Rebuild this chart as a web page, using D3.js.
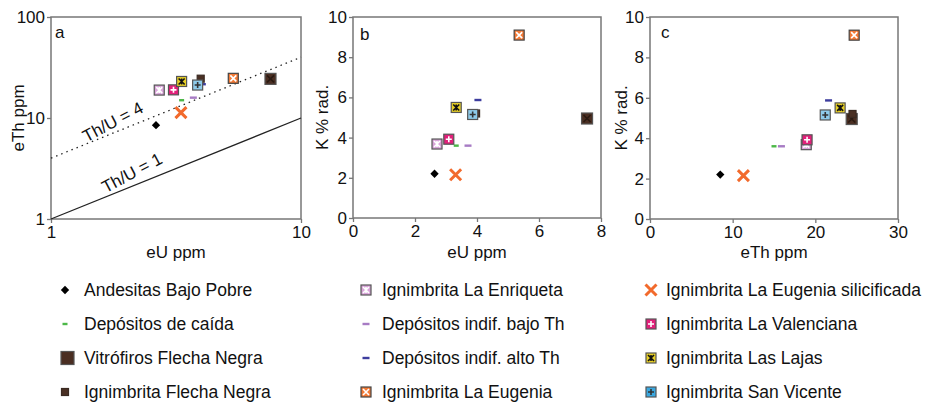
<!DOCTYPE html>
<html>
<head>
<meta charset="utf-8">
<script src="https://cdn.jsdelivr.net/npm/d3@7"></script>
<style>
  body { margin: 0; background: #fff; }
  svg { font-family: "Liberation Sans", Arial, sans-serif; }
</style>
</head>
<body>
<div id="chart"></div>
<script>
// data
var groups = ["Andesitas Bajo Pobre", "Depósitos de caída", "Vitrófiros Flecha Negra", "Ignimbrita Flecha Negra",
    "Ignimbrita La Enriqueta", "Depósitos indif. bajo Th", "Depósitos indif. alto Th", "Ignimbrita La Eugenia",
    "Ignimbrita La Eugenia silicificada", "Ignimbrita La Valenciana", "Ignimbrita Las Lajas", "Ignimbrita San Vicente"];
var eU  = [2.63, 3.33, 7.55, 3.97, 2.71, 3.71, 4.03, 5.36, 3.31, 3.09, 3.33, 3.86];
var eTh = [8.5, 15.0, 24.4, 24.5, 18.9, 15.9, 21.6, 24.7, 11.3, 19.0, 23.0, 21.2];
var K   = [2.2, 3.6, 4.95, 5.2, 3.68, 3.6, 5.87, 9.1, 2.15, 3.92, 5.5, 5.15];
var thuRatios = [4, 1];
var thuLabels = ["Th/U = 4", "Th/U = 1"];
var logTicksU = [1, 10];
var logTicksTh = [1, 10, 100];
var ticksU = [0, 2, 4, 6, 8];
var ticksTh = [0, 10, 20, 30];
var ticksK = [0, 2, 4, 6, 8, 10];

// marker look for every group (same order as groups)
var styles = [
    {shape: "diamond", fill: "#000", size: 7},
    {shape: "dash", fill: "#4cb848", w: 5},
    {shape: "square", fill: "#4a2e22", size: 11, glyph: "x", glyphColor: "#2a1a12", legendSize: 13, legendGlyph: false},
    {shape: "square", fill: "#4a3024", size: 7, stroke: "#3a2a22"},
    {shape: "square", fill: "#d8a4d8", size: 10, glyph: "star", glyphColor: "#fff"},
    {shape: "dash", fill: "#a77bc4", w: 7},
    {shape: "dash", fill: "#3d3d9e", w: 7},
    {shape: "square", fill: "#f37a36", size: 10, glyph: "x", glyphColor: "#fff", stroke: "#444"},
    {shape: "cross", fill: "#f26a2c", size: 11},
    {shape: "square", fill: "#e2207a", size: 10, glyph: "plus", glyphColor: "#fff"},
    {shape: "square", fill: "#e8d026", size: 10, glyph: "star", glyphColor: "#111"},
    {shape: "square", fill: "#8ecbea", size: 10, glyph: "plus", glyphColor: "#333", legendFill: "#3aa8e0"}
];

var width = 935, height = 407;
var svg = d3.select("#chart").append("svg")
    .attr("width", width)
    .attr("height", height);

function drawMarker(g, st, legend) {
    var s = (legend && st.legendSize) ? st.legendSize : st.size;
    if (st.shape == "diamond") {
        g.append("path").attr("d", d3.symbol().type(d3.symbolDiamond2).size(s * s * 0.9)()).attr("fill", st.fill);
    } else if (st.shape == "dash") {
        g.append("rect").attr("x", -st.w / 2).attr("y", -1.2).attr("width", st.w).attr("height", 2.4).attr("fill", st.fill);
    } else if (st.shape == "cross") {
        var h = s / 2;
        g.append("path").attr("d", "M" + (-h) + "," + (-h) + "L" + h + "," + h + "M" + (-h) + "," + h + "L" + h + "," + (-h))
            .attr("stroke", st.fill).attr("stroke-width", 3).attr("fill", "none");
    } else {
        var h2 = s / 2;
        g.append("rect").attr("x", -h2).attr("y", -h2).attr("width", s).attr("height", s)
            .attr("fill", (legend && st.legendFill) ? st.legendFill : st.fill)
            .attr("stroke", st.stroke || "#555").attr("stroke-width", 1.2);
        if (legend && st.legendGlyph === false) return;
        var q = h2 - 2, d = "";
        if (st.glyph == "x" || st.glyph == "star") d += "M" + (-q) + "," + (-q) + "L" + q + "," + q + "M" + (-q) + "," + q + "L" + q + "," + (-q);
        if (st.glyph == "plus") d += "M" + (-q) + ",0L" + q + ",0M0," + (-q) + "L0," + q;
        if (st.glyph == "star") d += "M0," + (-q) + "L0," + q;
        if (d) g.append("path").attr("d", d).attr("stroke", st.glyphColor).attr("stroke-width", 1.6).attr("fill", "none");
    }
}

function drawPanel(opt) {
    var p = svg.append("g");
    var x = opt.x, y = opt.y;

    var xAxis = d3.axisBottom(x).tickValues(opt.xTicks).tickSize(4).tickSizeOuter(0).tickPadding(3)
        .tickFormat(d3.format("d"));
    var yAxis = d3.axisLeft(y).tickValues(opt.yTicks).tickSize(4).tickSizeOuter(0).tickPadding(2)
        .tickFormat(d3.format("d"));

    p.append("g").attr("transform", "translate(0," + y.range()[0] + ")").call(xAxis);
    p.append("g").attr("transform", "translate(" + x.range()[0] + ",0)").call(yAxis);
    p.selectAll(".tick text").attr("font-size", 17).attr("fill", "#111").attr("font-family", "Liberation Sans, Arial, sans-serif");
    p.selectAll(".tick line").attr("stroke", "#777").attr("stroke-width", 1.3);
    p.selectAll(".domain").remove();

    // frame around the plot area
    p.append("rect")
        .attr("x", x.range()[0]).attr("y", y.range()[1])
        .attr("width", x.range()[1] - x.range()[0]).attr("height", y.range()[0] - y.range()[1])
        .attr("fill", "none").attr("stroke", "#777").attr("stroke-width", 1.5);

    if (opt.extra) opt.extra(p);

    groups.forEach(function (name, i) {
        var m = p.append("g").attr("transform", "translate(" + x(opt.xv[i]) + "," + y(opt.yv[i]) + ")");
        drawMarker(m, styles[i], false);
    });

    p.append("text").attr("x", opt.labelPos[0]).attr("y", opt.labelPos[1])
        .attr("font-size", 17).attr("fill", "#111").text(opt.label);

    p.append("text")
        .attr("x", (x.range()[0] + x.range()[1]) / 2).attr("y", 258)
        .attr("text-anchor", "middle").attr("font-size", 17).attr("fill", "#111")
        .text(opt.xTitle);

    p.append("text")
        .attr("transform", "translate(" + opt.yTitleX + "," + ((y.range()[0] + y.range()[1]) / 2) + ") rotate(-90)")
        .attr("text-anchor", "middle").attr("font-size", 17).attr("fill", "#111")
        .text(opt.yTitle);
}

// panel a
var xa = d3.scaleLog().domain([1, 10]).range([51, 301]);
var ya = d3.scaleLog().domain([1, 100]).range([219, 17]);
drawPanel({
    x: xa, y: ya, xv: eU, yv: eTh, xTicks: logTicksU, yTicks: logTicksTh,
    label: "a", labelPos: [55, 38], xTitle: "eU ppm", yTitle: "eTh ppm", yTitleX: 24,
    extra: function (p) {
        thuRatios.forEach(function (r, i) {
            p.append("line")
                .attr("x1", xa(1)).attr("y1", ya(r)).attr("x2", xa(10)).attr("y2", ya(r * 10))
                .attr("stroke", "#222").attr("stroke-width", 1.3)
                .attr("stroke-dasharray", r == 4 ? "1.5,4" : null);
        });
        // label anchor points (eU, eTh) for the ratio lines
        var lx = [1.77, 2.11], ly = [9.1, 2.85];
        thuLabels.forEach(function (t, i) {
            p.append("text")
                .attr("transform", "translate(" + xa(lx[i]) + "," + ya(ly[i]) + ") rotate(-28)")
                .attr("text-anchor", "middle").attr("dominant-baseline", "central")
                .attr("font-size", 17).attr("fill", "#111")
                .text(t);
        });
    }
});

// panel b
drawPanel({
    x: d3.scaleLinear().domain([0, 8]).range([353, 601]),
    y: d3.scaleLinear().domain([0, 10]).range([218, 17]),
    xv: eU, yv: K, xTicks: ticksU, yTicks: ticksK,
    label: "b", labelPos: [360, 40], xTitle: "eU ppm", yTitle: "K % rad.", yTitleX: 328
});

// panel c
drawPanel({
    x: d3.scaleLinear().domain([0, 30]).range([650, 898]),
    y: d3.scaleLinear().domain([0, 10]).range([219, 17]),
    xv: eTh, yv: K, xTicks: ticksTh, yTicks: ticksK,
    label: "c", labelPos: [661, 38], xTitle: "eTh ppm", yTitle: "K % rad.", yTitleX: 627
});

// legend, three columns of four
var legCols = [[65, 84], [366, 382], [651, 666]];
var legRows = [290, 324, 358, 392];
var legend = svg.append("g");
groups.forEach(function (name, i) {
    var c = legCols[Math.floor(i / 4)], r = legRows[i % 4];
    var mx = c[0] + (styles[i].legendSize ? 2.5 : 0);
    var g = legend.append("g").attr("transform", "translate(" + mx + "," + r + ")");
    drawMarker(g, styles[i], true);
    legend.append("text").attr("x", c[1]).attr("y", r + 6)
        .attr("font-size", 17.5).attr("fill", "#111").text(name);
});
</script>
</body>
</html>
